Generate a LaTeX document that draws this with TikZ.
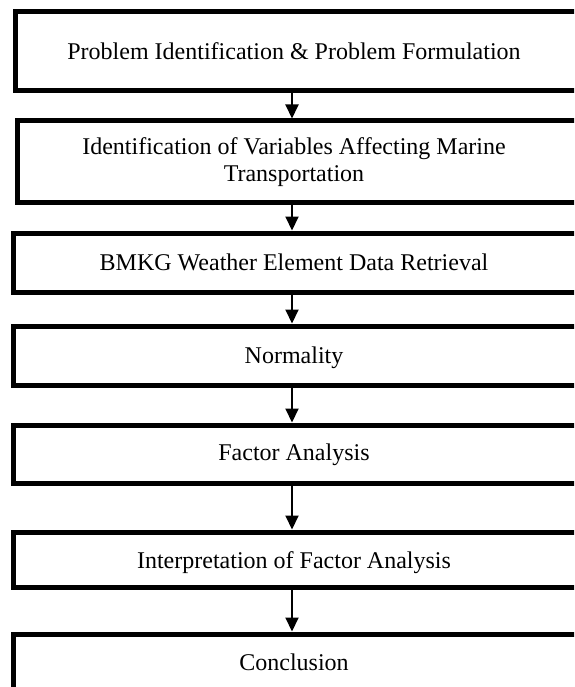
\documentclass[tikz,border=0pt]{standalone}
\usepackage{fontspec}
\setmainfont{Liberation Serif}
\usetikzlibrary{arrows.meta}
\tikzset{
  stage/.style={draw=black, line width=5pt, fill=white, rectangle, anchor=north west, inner sep=0pt},
  label/.style={font=\fontsize{24}{27.5}\selectfont, inner sep=0pt, align=center},
  flow/.style={line width=2pt, -{Triangle[width=13pt,length=14pt]}}
}
\begin{document}
\begin{tikzpicture}[x=1pt,y=1pt]
\useasboundingbox (0,0) rectangle (574,-687);
\clip (0,0) rectangle (574,-687);
% boxes
\node[stage, minimum width=600pt, minimum height=79pt] (b1) at (12.5,-9.5) {};
\node[stage, minimum width=600pt, minimum height=81pt] (b2) at (14.5,-118.5) {};
\node[stage, minimum width=600pt, minimum height=59pt] (b3) at (10.5,-230.5) {};
\node[stage, minimum width=600pt, minimum height=59pt] (b4) at (10.5,-323.5) {};
\node[stage, minimum width=600pt, minimum height=58pt] (b5) at (10.5,-422.5) {};
\node[stage, minimum width=600pt, minimum height=55pt] (b6) at (10.5,-529.5) {};
\node[stage, minimum width=564pt, minimum height=56pt] (b7) at (10.5,-631.5) {};
% texts
\node[label, anchor=base] (t1) at (294,-60) {Problem Identification \& Problem Formulation};
\node[label, anchor=center] (t2) at (294,-162) {Identification of Variables Affecting Marine\\Transportation};
\node[label, anchor=base] (t3) at (294,-270) {BMKG Weather Element Data Retrieval};
\node[label, anchor=base] (t4) at (294,-363) {Normality};
\node[label, anchor=base] (t5) at (294,-460) {Factor Analysis};
\node[label, anchor=base] (t6) at (294,-568) {Interpretation of Factor Analysis};
\node[label, anchor=base] (t7) at (294,-670) {Conclusion};
% arrows
\coordinate (ax) at (292,0);
\draw[flow] (b1.south -| ax) -- (b2.north -| ax);
\draw[flow] (b2.south -| ax) -- (b3.north -| ax);
\draw[flow] (b3.south -| ax) -- (b4.north -| ax);
\draw[flow] (b4.south -| ax) -- (b5.north -| ax);
\draw[flow] (b5.south -| ax) -- (b6.north -| ax);
\draw[flow] (b6.south -| ax) -- (b7.north -| ax);
\end{tikzpicture}
\end{document}
